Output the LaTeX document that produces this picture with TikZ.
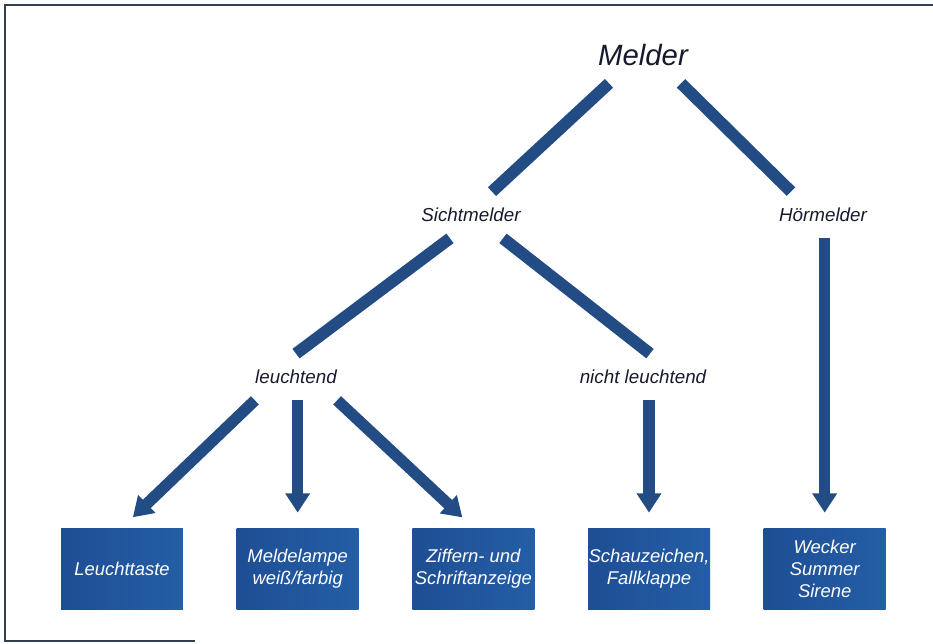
\documentclass[tikz,border=0pt]{standalone}
\usepackage{fontspec}
\setmainfont{Liberation Sans}
\usetikzlibrary{positioning}
\usetikzlibrary{arrows.meta}
\definecolor{kastenblau}{RGB}{36,94,166}
\definecolor{kastendunkel}{RGB}{30,78,148}
\definecolor{linienblau}{RGB}{36,76,132}
\definecolor{schrift}{RGB}{22,26,44}
\definecolor{rahmen}{RGB}{52,62,82}

\begin{document}
\begin{tikzpicture}[x=0.02cm,y=-0.02cm,
    ebene/.style={font=\itshape\fontsize{10.7}{12.5}\selectfont,text=schrift,inner sep=0pt,minimum height=0.92cm},
    kasten/.style={left color=kastendunkel,right color=kastenblau,minimum width=2.44cm,minimum height=1.64cm,
        inner sep=0pt,align=center,text=white,font=\itshape\fontsize{10.5}{12.5}\selectfont},
    ast/.style={draw=linienblau,line width=6.8pt},
    pfeil/.style={draw=linienblau,line width=6.5pt,-{Triangle[width=13.5pt,length=11pt]},shorten >=0.3cm},
    node distance=1.06cm]
    \useasboundingbox (0,0) rectangle (933,644);
    % Rahmen
    \draw[rahmen,line width=1.1pt] (933,5) -- (5,5) -- (5,641) -- (195,641);

    % Begriffe
    \node[ebene,font=\itshape\fontsize{16.7}{20}\selectfont,minimum height=1.12cm] (melder) at (643,55) {Melder};
    \node[ebene] (sicht) at (471,215) {Sichtmelder};
    \node[ebene] (hoer) at (823,215) {Hörmelder};
    \node[ebene] (leu) at (296,377) {leuchtend};
    \node[ebene] (nicht) at (643,377) {nicht leuchtend};

    % Geraete
    \node[kasten] (taste) at (122,569) {Leuchttaste};
    \node[kasten,right=of taste] (lampe) {Meldelampe\\weiß/farbig};
    \node[kasten,right=of lampe] (ziffern) {Ziffern- und\\Schriftanzeige};
    \node[kasten,right=of ziffern] (schau) {Schauzeichen,\\Fallklappe};
    \node[kasten,right=of schau] (wecker) {Wecker\\Summer\\Sirene};

    % Verbindungen
    \draw[ast] ([xshift=-0.68cm]melder.south) -- ([xshift=0.42cm]sicht.north);
    \draw[ast] ([xshift=0.76cm]melder.south) -- ([xshift=-0.64cm]hoer.north);
    \draw[ast] ([xshift=-0.42cm]sicht.south) -- (leu.north);
    \draw[ast] ([xshift=0.64cm]sicht.south) -- ([xshift=0.14cm]nicht.north);
    \draw[pfeil] (leu.south west) -- (taste.north);
    \draw[pfeil] (leu.south -| lampe.north) -- (lampe.north);
    \draw[pfeil] (leu.south east) -- (ziffern.north);
    \draw[pfeil] (nicht.south -| schau.north) -- (schau.north);
    \draw[pfeil] (hoer.south -| wecker.north) -- (wecker.north);
\end{tikzpicture}
\end{document}
